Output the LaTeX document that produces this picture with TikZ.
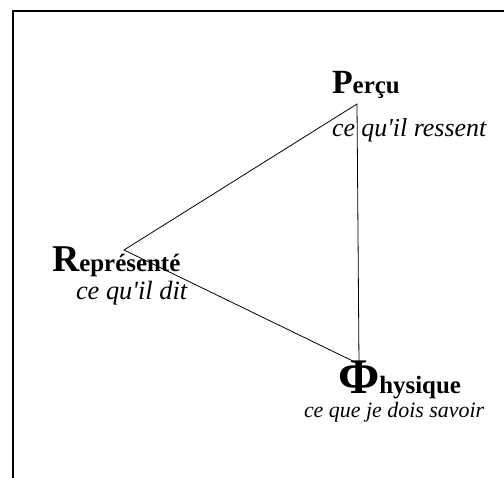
\documentclass[tikz,border=0pt]{standalone}
\usepackage{fontspec}
\setmainfont{Liberation Serif}[Ligatures=TeXOff]
\begin{document}
\begin{tikzpicture}[x=1bp,y=-1bp,
  lbl/.style={anchor=base west, inner sep=0pt, outer sep=0pt},
  edge/.style={line width=0.8bp, black}]
\useasboundingbox (0,0) rectangle (504,478);
\fill[white] (0,0) rectangle (504,478);
\draw[line width=2bp] (13,478) -- (13,11) -- (504,11);
\coordinate (P) at (357,104);
\coordinate (R) at (124,250);
\coordinate (F) at (359,364);
\draw[edge] (P) -- (R) -- (F) -- cycle;
\node[lbl] (perc) at (332,94) {\bfseries\fontsize{34}{34}\selectfont P\fontsize{25}{25}\selectfont erçu};
\node[lbl] (percs) at (332,137) {\itshape\fontsize{26}{26}\selectfont ce qu'il ressent};
\node[lbl] (rep) at (52,271) {\bfseries\fontsize{38}{38}\selectfont R\fontsize{25}{25}\selectfont eprésenté};
\node[lbl] (reps) at (76,299) {\itshape\fontsize{26.5}{26.5}\selectfont ce qu'il dit};
\node[lbl] (phy) at (338,393) {\bfseries\fontsize{50}{50}\selectfont Φ\fontsize{25}{25}\selectfont hysique};
\node[lbl] (phys) at (304,417) {\itshape\fontsize{22}{22}\selectfont ce que je dois savoir};
\end{tikzpicture}
\end{document}
